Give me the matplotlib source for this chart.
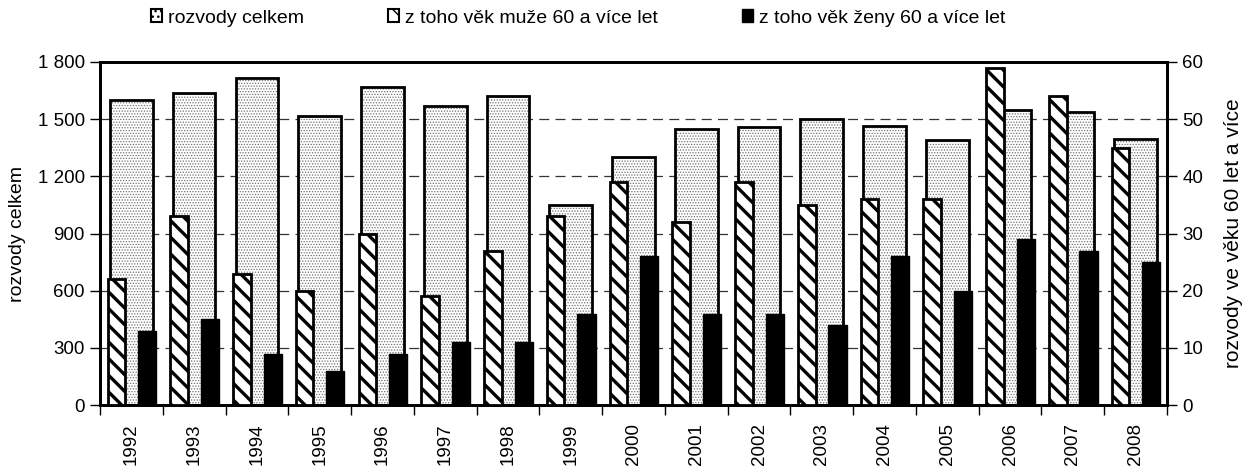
import matplotlib
matplotlib.use("Agg")
import matplotlib.pyplot as plt
from matplotlib.patches import Patch
from matplotlib.ticker import FuncFormatter
import numpy as np

years = [str(y) for y in range(1992, 2009)]
total = [1600, 1635, 1714, 1517, 1670, 1568, 1621, 1047, 1303, 1446, 1461, 1500, 1466, 1391, 1546, 1537, 1396]
men60 = [22, 33, 23, 20, 30, 19, 27, 33, 39, 32, 39, 35, 36, 36, 59, 54, 45]
women60 = [13, 15, 9, 6, 9, 11, 11, 16, 26, 16, 16, 14, 26, 20, 29, 27, 25]

legend_labels = ["rozvody celkem", "z toho věk muže 60 a více let", "z toho věk ženy 60 a více let"]
left_label = "rozvody celkem"
right_label = "rozvody ve věku 60 let a více"

FS_TICK = 13.5
FS_LEG = 14
FS_LAB = 14
FS_RLAB = 15
plt.rcParams['font.family'] = ['Liberation Sans', 'DejaVu Sans']
plt.rcParams['font.size'] = FS_TICK

fig = plt.figure(figsize=(12.47, 4.66), dpi=100)
ax = fig.add_axes([100/1247, 1-405/466, 1067/1247, 343/466])
ax2 = ax.twinx()

x = np.arange(len(years))

with plt.rc_context({'hatch.linewidth': 0.6}):
    ax.bar(x, total, width=0.68, color='white', edgecolor='#707070', hatch='......', linewidth=0, zorder=2)
    h_tot = Patch(facecolor='white', edgecolor='black', hatch='...', linewidth=1.5)
ax.bar(x, total, width=0.68, fill=False, edgecolor='black', linewidth=2, zorder=3)

with plt.rc_context({'hatch.linewidth': 2.4}):
    ax2.bar(x - 0.24, men60, width=0.28, color='white', edgecolor='black', hatch='\\\\', linewidth=2, zorder=3)
    h_men = Patch(facecolor='white', edgecolor='black', hatch='\\\\', linewidth=1.5)
ax2.bar(x + 0.25, women60, width=0.29, color='black', edgecolor='black', linewidth=1, zorder=3)

ax.set_xlim(-0.5, len(years) - 0.5)
ax.set_ylim(0, 1800)
ax2.set_ylim(0, 60)
ax.set_yticks(range(0, 1801, 300))
ax2.set_yticks(range(0, 61, 10))
ax.yaxis.set_major_formatter(FuncFormatter(lambda v, p: f"{int(v):,}".replace(",", " ")))

ax.set_xticks(np.arange(-0.5, len(years), 1.0))
ax.set_xticklabels([])
ax.set_xticks(x, minor=True)
ax.set_xticklabels(years, minor=True, rotation=90)
ax.tick_params(axis='x', which='minor', length=0, pad=13, labelsize=FS_TICK)
ax.tick_params(axis='x', which='major', length=7, width=1, direction='out')
ax.tick_params(axis='y', length=7, width=1, direction='out', labelsize=FS_TICK, pad=4)
ax2.tick_params(axis='y', length=7, width=1, direction='out', labelsize=FS_TICK, pad=4)

ax.grid(axis='y', color='#333333', linestyle=(0, (8, 5)), linewidth=0.9, zorder=0)
ax.set_axisbelow(True)

for a in (ax, ax2):
    for s in a.spines.values():
        s.set_linewidth(2)
        s.set_color('black')

ax.set_ylabel(left_label, fontsize=FS_LAB, labelpad=8)
ax2.set_ylabel(right_label, fontsize=FS_RLAB, rotation=90, labelpad=15)

h_wom = Patch(facecolor='black', edgecolor='black', linewidth=1)
fig.legend([h_tot, h_men, h_wom], legend_labels, loc='center', bbox_to_anchor=(578/1247, 1-18/466), ncol=3,
           frameon=False, handlelength=0.6, handleheight=0.6, handletextpad=0.3, columnspacing=4.3,
           fontsize=FS_LEG)

fig.savefig("out.png", dpi=100)
